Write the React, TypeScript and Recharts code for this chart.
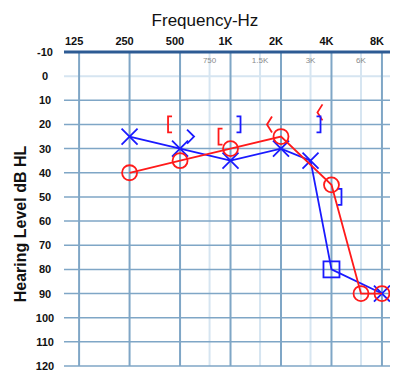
import React from "react";
import {
  ComposedChart,
  Scatter,
  XAxis,
  YAxis,
  ReferenceLine,
} from "recharts";

// audiogram values
const octaveFreqs = [125, 250, 500, 1000, 2000, 4000, 8000];
const octaveLabels = ["125", "250", "500", "1K", "2K", "4K", "8K"];
const halfFreqs = [750, 1500, 3000, 6000];
const halfLabels = ["750", "1.5K", "3K", "6K"];
const dbTicks = [-10, 0, 10, 20, 30, 40, 50, 60, 70, 80, 90, 100, 110, 120];

// right ear, air conduction (O)
const rightAir = [
  { f: 250, db: 40 },
  { f: 500, db: 35 },
  { f: 1000, db: 30 },
  { f: 2000, db: 25 },
  { f: 4000, db: 45 },
  { f: 6000, db: 90 },
  { f: 8000, db: 90 },
];

// left ear, air conduction (X, masked = square)
const leftAir = [
  { f: 250, db: 25, masked: false },
  { f: 500, db: 30, masked: false },
  { f: 1000, db: 35, masked: false },
  { f: 2000, db: 30, masked: false },
  { f: 3000, db: 35, masked: false },
  { f: 4000, db: 80, masked: true },
  { f: 8000, db: 90, masked: false },
];

// bone conduction
const rightBone = [
  { f: 500, db: 20, masked: true },
  { f: 1000, db: 25, masked: true },
  { f: 2000, db: 20, masked: false },
  { f: 4000, db: 15, masked: false },
];
const leftBone = [
  { f: 500, db: 25, masked: false },
  { f: 1000, db: 20, masked: true },
  { f: 3000, db: 20, masked: true },
  { f: 4000, db: 50, masked: true },
];

const RED = "#ff1a1a";
const BLUE = "#1a1aff";
const GRID = "#7fa6c6";
const GRID_LIGHT = "#d6e5f1";
const FONT = "Liberation Sans, Arial, sans-serif";

const Circle = (p: any) => (
  <circle cx={p.cx} cy={p.cy} r={7.5} fill="none" stroke={RED} strokeWidth={1.8} />
);

const Cross = (p: any) => {
  const { cx, cy } = p;
  if (p.payload && p.payload.masked) {
    return <rect x={cx - 8} y={cy - 8} width={16} height={16} fill="none" stroke={BLUE} strokeWidth={1.8} />;
  }
  return (
    <path
      d={`M${cx - 8},${cy - 8}L${cx + 8},${cy + 8}M${cx + 8},${cy - 8}L${cx - 8},${cy + 8}`}
      stroke={BLUE}
      strokeWidth={1.8}
      fill="none"
    />
  );
};

const RightBoneMark = (p: any) => {
  const x = p.cx - 12;
  const y = p.cy;
  const d = p.payload.masked
    ? `M${x + 4},${y - 8}H${x}V${y + 8}H${x + 4}`
    : `M${x + 3},${y - 8}L${x - 2},${y}L${x + 3},${y + 8}`;
  return <path d={d} stroke={RED} strokeWidth={1.8} fill="none" />;
};

const LeftBoneMark = (p: any) => {
  const x = p.cx + 10;
  const y = p.cy;
  const d = p.payload.masked
    ? `M${x - 4},${y - 8}H${x}V${y + 8}H${x - 4}`
    : `M${x - 3},${y - 7}L${x + 4},${y}L${x - 3},${y + 7}`;
  return <path d={d} stroke={BLUE} strokeWidth={1.8} fill="none" />;
};

const XTick = (p: any) => {
  const i = octaveFreqs.indexOf(p.payload.value);
  return (
    <text x={p.x - 5} y={45} textAnchor="middle" fontSize={11} fontWeight="bold" fill="#111" fontFamily={FONT}>
      {octaveLabels[i]}
    </text>
  );
};

const YTick = (p: any) => (
  <text x={45} y={p.y + 4} textAnchor="middle" fontSize={11} fontWeight="bold" fill="#111" fontFamily={FONT}>
    {p.payload.value}
  </text>
);

const HalfLabel = (p: any) => (
  <text x={p.viewBox.x} y={63} textAnchor="middle" fontSize={8} fill="#8a8a8a" fontFamily={FONT}>
    {p.text}
  </text>
);

export default function App() {
  return (
    <div style={{ position: "absolute", left: 0, top: 0, width: 393, height: 371, background: "#fff" }}>
      <ComposedChart width={393} height={371} margin={{ top: 22, right: 3, bottom: 5, left: 0 }}>
        <XAxis
          type="number"
          dataKey="f"
          scale="log"
          domain={[101.6, 8935]}
          allowDataOverflow
          orientation="top"
          ticks={octaveFreqs}
          interval={0}
          tick={<XTick />}
          tickLine={false}
          axisLine={false}
          height={30}
        />
        <YAxis
          type="number"
          dataKey="db"
          reversed
          domain={[-10, 120]}
          allowDataOverflow
          ticks={dbTicks}
          interval={0}
          tick={<YTick />}
          tickLine={false}
          axisLine={false}
          width={64}
        />
        {halfFreqs.map((f, i) => (
          <ReferenceLine key={"h" + f} x={f} stroke={GRID_LIGHT} strokeWidth={2} ifOverflow="visible" label={<HalfLabel text={halfLabels[i]} />} />
        ))}
        {dbTicks.slice(1).map((d) => (
          <ReferenceLine key={"y" + d} y={d} stroke={d === 0 ? GRID_LIGHT : GRID} strokeWidth={d === 0 ? 2 : 1.5} ifOverflow="visible" />
        ))}
        {octaveFreqs.map((f) => (
          <ReferenceLine key={"o" + f} x={f} stroke={GRID} strokeWidth={2} ifOverflow="visible" />
        ))}
        <ReferenceLine y={-10} stroke="#2d5b94" strokeWidth={3} ifOverflow="visible" />
        <Scatter data={rightBone} shape={<RightBoneMark />} isAnimationActive={false} />
        <Scatter data={leftBone} shape={<LeftBoneMark />} isAnimationActive={false} />
        <Scatter
          data={leftAir}
          line={{ stroke: BLUE, strokeWidth: 1.8 }}
          shape={<Cross />}
          isAnimationActive={false}
        />
        <Scatter
          data={rightAir}
          line={{ stroke: RED, strokeWidth: 1.8 }}
          shape={<Circle />}
          isAnimationActive={false}
        />
      </ComposedChart>
      <svg width={393} height={371} style={{ position: "absolute", left: 0, top: 0, pointerEvents: "none" }}>
        <text x={205} y={26} textAnchor="middle" fontSize={17} fill="#111" fontFamily={FONT}>
          Frequency-Hz
        </text>
        <text
          transform="translate(26,224) rotate(-90)"
          textAnchor="middle"
          fontSize={16}
          fontWeight="bold"
          fill="#111"
          fontFamily={FONT}
        >
          Hearing Level dB HL
        </text>
      </svg>
    </div>
  );
}
